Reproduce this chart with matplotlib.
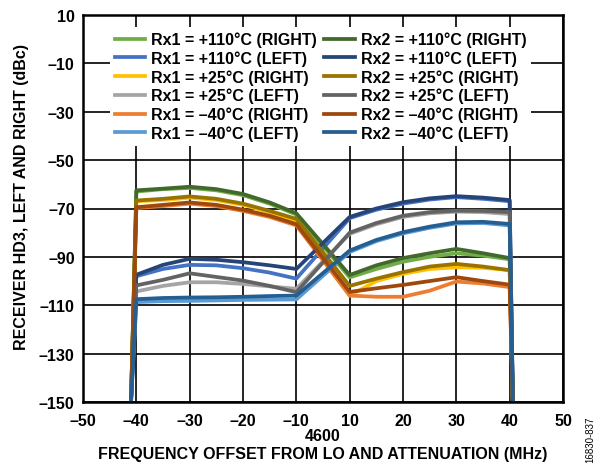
import numpy as np
import matplotlib
matplotlib.use("Agg")
import matplotlib.pyplot as plt

plt.rcParams['font.family'] = ['Liberation Sans', 'DejaVu Sans']
plt.rcParams['font.weight'] = 'bold'

# Frequency offsets (MHz); first/last points are the band edges where the curves drop off
freq = [-41, -40, -35, -30, -25, -20, -15, -10, 10, 15, 20, 25, 30, 35, 40, 40.6]

rx1_110_right = [-150, -63, -62, -61.5, -62.5, -64.5, -68, -72.5, -98.5, -95, -92, -90, -88.5, -89.5, -91, -150]
rx1_110_left = [-150, -98, -95, -93.3, -93.5, -94.7, -96.5, -99, -74, -70.5, -68, -66.3, -65.3, -66, -67, -150]
rx1_25_right = [-150, -67, -66.5, -65.5, -66.5, -68.5, -71.5, -75.5, -106, -100, -97, -95, -94.3, -94.5, -95.5, -150]
rx1_25_left = [-150, -104.3, -102, -100.5, -100.5, -101.2, -102.2, -103.2, -80.5, -76.5, -73.5, -72, -71.3, -71.5, -72.3, -150]
rx1_m40_right = [-150, -69.8, -69, -68, -69, -71, -73.5, -77, -106, -106.5, -106.5, -104, -100.2, -101, -102.5, -150]
rx1_m40_left = [-150, -108.7, -108.3, -108.2, -108, -107.8, -107.7, -107.6, -88, -83.5, -80.3, -78, -76.2, -76, -77, -150]

rx2_110_right = [-150, -62.5, -61.8, -61, -62, -64, -67.5, -72, -97.5, -93.5, -90.5, -88.5, -86.7, -88.5, -90.5, -150]
rx2_110_left = [-150, -97.4, -93.3, -90.8, -91.2, -92.2, -93.5, -95, -73.5, -70, -67.4, -65.8, -64.9, -65.5, -66.5, -150]
rx2_25_right = [-150, -66.7, -66, -65, -66, -68, -71, -74.3, -102, -99, -96.3, -94, -92.9, -94, -95.5, -150]
rx2_25_left = [-150, -101.8, -99.5, -96.8, -98.3, -99.8, -102, -104.6, -80, -76, -73, -71.5, -70.9, -71, -71.5, -150]
rx2_m40_right = [-150, -69.5, -68.5, -67.5, -68.5, -70.5, -73, -76.5, -104.5, -103, -101.6, -100, -98.4, -100, -101.5, -150]
rx2_m40_left = [-150, -107.5, -107, -106.8, -106.7, -106.5, -106.2, -106, -87.4, -83, -79.8, -77.5, -75.7, -75.5, -76.4, -150]

series = [
    ("Rx1 = +110°C (RIGHT)", rx1_110_right, "#70AD47"),
    ("Rx1 = +110°C (LEFT)", rx1_110_left, "#4472C4"),
    ("Rx1 = +25°C (RIGHT)", rx1_25_right, "#FFC000"),
    ("Rx1 = +25°C (LEFT)", rx1_25_left, "#A5A5A5"),
    ("Rx1 = –40°C (RIGHT)", rx1_m40_right, "#ED7D31"),
    ("Rx1 = –40°C (LEFT)", rx1_m40_left, "#5B9BD5"),
    ("Rx2 = +110°C (RIGHT)", rx2_110_right, "#43682B"),
    ("Rx2 = +110°C (LEFT)", rx2_110_left, "#264478"),
    ("Rx2 = +25°C (RIGHT)", rx2_25_right, "#997300"),
    ("Rx2 = +25°C (LEFT)", rx2_25_left, "#636363"),
    ("Rx2 = –40°C (RIGHT)", rx2_m40_right, "#9E480E"),
    ("Rx2 = –40°C (LEFT)", rx2_m40_left, "#255E91"),
]

x_ticks = [-50, -40, -30, -20, -10, 10, 20, 30, 40, 50]
x_tick_labels = ["–50", "–40", "–30", "–20", "–10", "10", "20", "30", "40", "50"]
y_ticks = [10, -10, -30, -50, -70, -90, -110, -130, -150]
y_tick_labels = ["10", "–10", "–30", "–50", "–70", "–90", "–110", "–130", "–150"]

FS = 11.5


def fwd(f):
    f = np.asarray(f, dtype=float)
    return np.where(f < 0, f + 5, np.where(f > 0, f - 5, 0.0))


def inv(u):
    u = np.asarray(u, dtype=float)
    return np.where(u < 0, u - 5, np.where(u > 0, u + 5, 0.0))


fig = plt.figure(figsize=(6.07, 4.64), dpi=100)
ax = fig.add_axes([83 / 607, 1 - 403 / 464, 480 / 607, 387 / 464])
ax.set_xscale('function', functions=(fwd, inv))

handles = []
for label, vals, col in series:
    h, = ax.plot(freq, vals, color=col, lw=2.7, label=label, solid_joinstyle='round')
    handles.append(h)

ax.set_xlim(-50, 50)
ax.set_ylim(-150, 10)
ax.set_xticks(x_ticks)
ax.set_xticklabels(x_tick_labels)
ax.set_yticks(y_ticks)
ax.set_yticklabels(y_tick_labels)
ax.minorticks_off()
ax.grid(True, color='#000000', lw=1.2)
ax.set_axisbelow(True)
ax.tick_params(length=0, labelsize=FS)
ax.tick_params(axis='y', pad=6)
ax.tick_params(axis='x', pad=8)
for lab in ax.get_xticklabels() + ax.get_yticklabels():
    lab.set_fontweight('bold')
for sp in ax.spines.values():
    sp.set_linewidth(1.8)
    sp.set_color('#000000')

ax.set_xlabel("4600\nFREQUENCY OFFSET FROM LO AND ATTENUATION (MHz)", fontsize=FS,
              fontweight='bold', linespacing=1.25, labelpad=0)
ax.set_ylabel("RECEIVER HD3, LEFT AND RIGHT (dBc)", fontsize=FS, fontweight='bold')
ax.yaxis.set_label_coords(-0.112, 0.532)

leg = ax.legend(handles=handles, ncol=2, loc='upper center', bbox_to_anchor=(0.495, 0.99),
                frameon=True, fancybox=False, edgecolor='none', facecolor='white', framealpha=1,
                fontsize=FS, handlelength=1.9, handletextpad=0.38, columnspacing=0.45,
                labelspacing=0.2, borderpad=0.3)
for t in leg.get_texts():
    t.set_fontweight('bold')

fig.text(590 / 607, 1 - 440 / 464, "16830-837", rotation=90, fontsize=7, fontweight='normal',
         ha='center', va='center')

fig.savefig("out.png", dpi=100)
